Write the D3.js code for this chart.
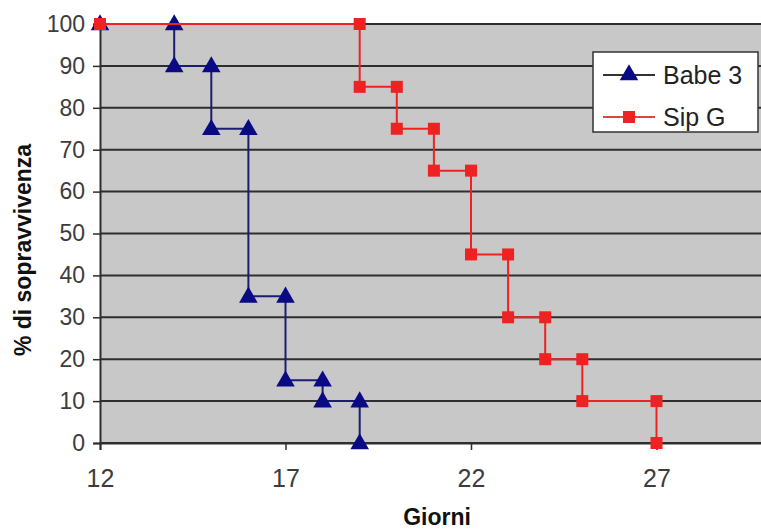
<!DOCTYPE html>
<html>
<head>
<meta charset="utf-8">
<script src="https://cdn.jsdelivr.net/npm/d3@7"></script>
<style>
  body { margin: 0; background: #fff; }
  text { font-family: "Liberation Sans", Arial, sans-serif; }
</style>
</head>
<body>
<div id="chart"></div>
<script>
// Survival data: [day, % surviving]
var babeDays   = [12, 14, 14, 15, 15, 16, 16, 17, 17, 18, 18, 19, 19];
var babeValues = [100, 100, 90, 90, 75, 75, 35, 35, 15, 15, 10, 10, 0];
var sipDays    = [12, 19, 19, 20, 20, 21, 21, 22, 22, 23, 23, 24, 24, 25, 25, 27, 27];
var sipValues  = [100, 100, 85, 85, 75, 75, 65, 65, 45, 45, 30, 30, 20, 20, 10, 10, 0];
var xTicks = [12, 17, 22, 27];
var yTicks = [0, 10, 20, 30, 40, 50, 60, 70, 80, 90, 100];
var seriesNames = ["Babe 3", "Sip G"];

var width = 761, height = 529;
var margin = {top: 24, left: 100, bottom: 86};

var svg = d3.select("#chart").append("svg")
    .attr("width", width)
    .attr("height", height);

// plot area runs past the right edge of the picture (cropped)
var xScale = d3.scaleLinear().domain([12, 32]).range([margin.left, margin.left + 20 * 37.1]);
var yScale = d3.scaleLinear().domain([0, 100]).range([height - margin.bottom, margin.top]);

svg.append("rect")
    .attr("x", xScale(12))
    .attr("y", yScale(100))
    .attr("width", xScale(32) - xScale(12))
    .attr("height", yScale(0) - yScale(100))
    .attr("fill", "#c8c8c8");

// horizontal grid
svg.append("g").selectAll("line").data(yTicks).enter().append("line")
    .attr("x1", xScale(12)).attr("x2", xScale(32))
    .attr("y1", function (d) { return yScale(d); })
    .attr("y2", function (d) { return yScale(d); })
    .attr("stroke", "#2e2e2e")
    .attr("stroke-width", 2);

var yAxis = d3.axisLeft(yScale).tickValues(yTicks).tickSize(7).tickPadding(8);
var gy = svg.append("g").attr("transform", "translate(" + xScale(12) + ",0)").call(yAxis);
gy.select(".domain").attr("stroke", "#2e2e2e").attr("stroke-width", 2);
gy.selectAll(".tick line").attr("stroke", "#2e2e2e").attr("stroke-width", 1.5);
gy.selectAll(".tick text").attr("font-size", 23).attr("fill", "#3c3c3c")
    .attr("font-family", "Liberation Sans, Arial, sans-serif");

var xAxis = d3.axisBottom(xScale).tickValues(xTicks).tickSize(7).tickPadding(19);
var gx = svg.append("g").attr("transform", "translate(0," + yScale(0) + ")").call(xAxis);
gx.select(".domain").attr("stroke", "#2e2e2e").attr("stroke-width", 2);
gx.selectAll(".tick line").attr("stroke", "#2e2e2e").attr("stroke-width", 1.5);
gx.selectAll(".tick text").attr("font-size", 25).attr("fill", "#3c3c3c")
    .attr("font-family", "Liberation Sans, Arial, sans-serif");

// axis titles
svg.append("text")
    .attr("transform", "translate(31,250) rotate(-90)")
    .attr("text-anchor", "middle")
    .attr("font-size", 23)
    .attr("font-weight", "bold")
    .attr("fill", "#111")
    .text("% di sopravvivenza");

svg.append("text")
    .attr("x", 437).attr("y", 525)
    .attr("text-anchor", "middle")
    .attr("font-size", 23)
    .attr("font-weight", "bold")
    .attr("fill", "#111")
    .text("Giorni");

function toPoints(days, values) {
    return days.map(function (d, i) { return {x: d, y: values[i]}; });
}

var line = d3.line()
    .x(function (d) { return xScale(d.x); })
    .y(function (d) { return yScale(d.y); });

var triangle = d3.symbol().type(d3.symbolTriangle).size(150);
var blue = "#0a0a85", red = "#ee2222";

// Babe 3 drawn first, Sip G on top
var babe = toPoints(babeDays, babeValues);
svg.append("path").datum(babe)
    .attr("d", line).attr("fill", "none")
    .attr("stroke", "#1c1c70").attr("stroke-width", 2);
svg.append("g").selectAll("path").data(babe).enter().append("path")
    .attr("d", triangle)
    .attr("transform", function (d) { return "translate(" + xScale(d.x) + "," + (yScale(d.y) + 1) + ")"; })
    .attr("fill", blue);

var sip = toPoints(sipDays, sipValues);
svg.append("path").datum(sip)
    .attr("d", line).attr("fill", "none")
    .attr("stroke", red).attr("stroke-width", 2);
svg.append("g").selectAll("rect").data(sip).enter().append("rect")
    .attr("x", function (d) { return xScale(d.x) - 6; })
    .attr("y", function (d) { return yScale(d.y) - 6; })
    .attr("width", 12).attr("height", 12)
    .attr("fill", red);

// legend
var legend = svg.append("g").attr("transform", "translate(593,52)");
legend.append("rect")
    .attr("width", 165).attr("height", 80)
    .attr("fill", "#fff").attr("stroke", "#333").attr("stroke-width", 1.5);

var items = legend.selectAll("g").data(seriesNames).enter().append("g")
    .attr("transform", function (d, i) { return "translate(0," + (23 + i * 42) + ")"; });
items.append("line")
    .attr("x1", 10).attr("x2", 62).attr("y1", 0).attr("y2", 0)
    .attr("stroke", function (d, i) { return i === 0 ? "#333" : "#d44"; })
    .attr("stroke-width", 2);
items.each(function (d, i) {
    var g = d3.select(this);
    if (i === 0) {
        g.append("path").attr("d", triangle).attr("transform", "translate(36,0)").attr("fill", blue);
    } else {
        g.append("rect").attr("x", 30).attr("y", -6).attr("width", 12).attr("height", 12).attr("fill", red);
    }
});
items.append("text")
    .attr("x", 70).attr("y", 9)
    .attr("font-size", 25)
    .attr("fill", "#222")
    .text(function (d) { return d; });
</script>
</body>
</html>
